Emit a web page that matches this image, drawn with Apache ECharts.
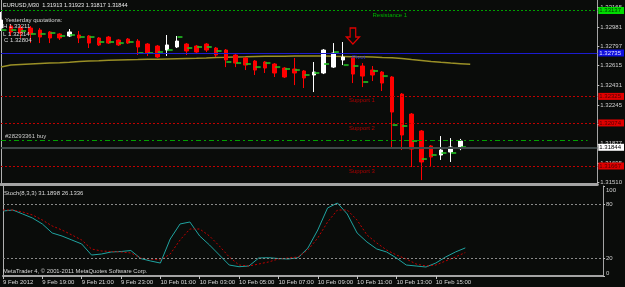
<!DOCTYPE html>
<html><head><meta charset="utf-8">
<script src="https://cdn.jsdelivr.net/npm/echarts@6/dist/echarts.min.js"></script>
<style>html,body{margin:0;padding:0;background:#0a0c0a}#c{width:625px;height:287px}</style>
</head><body><div id="c"></div><script>
// ---------- data ----------
const times = [
 '9 Feb 17:00','9 Feb 17:30','9 Feb 18:00','9 Feb 18:30','9 Feb 19:00','9 Feb 19:30','9 Feb 20:00','9 Feb 20:30',
 '9 Feb 21:00','9 Feb 21:30','9 Feb 22:00','9 Feb 22:30','9 Feb 23:00','9 Feb 23:30',
 '10 Feb 00:00','10 Feb 00:30','10 Feb 01:00','10 Feb 01:30','10 Feb 02:00','10 Feb 02:30','10 Feb 03:00','10 Feb 03:30',
 '10 Feb 04:00','10 Feb 04:30','10 Feb 05:00','10 Feb 05:30','10 Feb 06:00','10 Feb 06:30','10 Feb 07:00','10 Feb 07:30',
 '10 Feb 08:00','10 Feb 08:30','10 Feb 09:00','10 Feb 09:30','10 Feb 10:00','10 Feb 10:30','10 Feb 11:00','10 Feb 11:30',
 '10 Feb 12:00','10 Feb 12:30','10 Feb 13:00','10 Feb 13:30','10 Feb 14:00','10 Feb 14:30','10 Feb 15:00','10 Feb 15:30',
 '10 Feb 16:00','10 Feb 16:30',
 '10 Feb 17:00','10 Feb 17:30','10 Feb 18:00','10 Feb 18:30','10 Feb 19:00','10 Feb 19:30','10 Feb 20:00','10 Feb 20:30',
 '10 Feb 21:00','10 Feb 21:30','10 Feb 22:00','10 Feb 22:30','10 Feb 23:00','10 Feb 23:30'
];
const timeLabels = ['9 Feb 2012','9 Feb 19:00','9 Feb 21:00','9 Feb 23:00','10 Feb 01:00','10 Feb 03:00',
 '10 Feb 05:00','10 Feb 07:00','10 Feb 09:00','10 Feb 11:00','10 Feb 13:00','10 Feb 15:00'];

const opens  = [1.32971,1.32990,1.32971,1.32971,1.32952,1.32934,1.32915,1.32896,1.32905,1.32896,1.32877,1.32886,1.32858,1.32867,
 1.32848,1.32820,1.32801,1.32763,1.32792,1.32820,1.32801,1.32820,1.32782,1.32763,1.32716,1.32688,1.32659,1.32650,1.32631,1.32593,
 1.32584,1.32565,1.32527,1.32546,1.32602,1.32669,1.32688,1.32612,1.32574,1.32555,1.32508,1.32347,1.32158,1.31998,1.31856,1.31771,1.31799,1.31832];
const closes = [1.33047,1.32934,1.32924,1.32915,1.32886,1.32877,1.32877,1.32934,1.32877,1.32829,1.32811,1.32829,1.32811,1.32829,
 1.32792,1.32735,1.32697,1.32811,1.32848,1.32754,1.32744,1.32763,1.32716,1.32669,1.32640,1.32621,1.32574,1.32593,1.32546,1.32508,
 1.32546,1.32499,1.32555,1.32763,1.32735,1.32697,1.32536,1.32517,1.32527,1.32451,1.32177,1.31960,1.31827,1.31705,1.31752,1.31818,1.31846,1.31903];
const lows   = [1.32943,1.32896,1.32877,1.32829,1.32829,1.32829,1.32858,1.32886,1.32829,1.32782,1.32801,1.32820,1.32801,1.32820,
 1.32716,1.32707,1.32688,1.32707,1.32782,1.32716,1.32725,1.32744,1.32697,1.32602,1.32602,1.32574,1.32527,1.32546,1.32508,1.32499,
 1.32432,1.32404,1.32366,1.32536,1.32593,1.32621,1.32451,1.32413,1.32470,1.32376,1.31837,1.31818,1.31657,1.31534,1.31667,1.31724,1.31705,1.31817];
const highs  = [1.33123,1.33009,1.33000,1.32990,1.32971,1.32943,1.32924,1.32962,1.32943,1.32905,1.32886,1.32896,1.32867,1.32877,
 1.32867,1.32829,1.32811,1.32905,1.32896,1.32829,1.32811,1.32829,1.32792,1.32773,1.32725,1.32697,1.32669,1.32659,1.32640,1.32602,
 1.32688,1.32574,1.32650,1.32773,1.32829,1.32839,1.32697,1.32640,1.32612,1.32565,1.32517,1.32357,1.32168,1.32007,1.31865,1.31950,1.31931,1.31923];

const maValues = [1.32602,1.32621,1.32626,1.32631,1.32636,1.32640,1.32643,1.32647,1.32655,1.32659,1.32662,1.32666,1.32669,1.32672,
 1.32673,1.32675,1.32675,1.32678,1.32681,1.32683,1.32685,1.32688,1.32692,1.32694,1.32697,1.32699,1.32702,1.32704,1.32704,1.32705,
 1.32707,1.32707,1.32707,1.32707,1.32704,1.32702,1.32700,1.32699,1.32697,1.32692,1.32690,1.32683,1.32673,1.32664,1.32655,1.32647,
 1.32640,1.32634,1.32628];

const greenMarks = [1.32952,1.32952,1.32943,1.32915,1.32915,1.32924,1.32896,1.32905,1.32886,1.32886,1.32839,1.32839,1.32829,1.32839,
 1.32735,1.32735,1.32744,1.32763,1.32886,1.32782,1.32792,1.32792,1.32754,1.32650,1.32640,1.32631,1.32602,1.32640,1.32602,1.32584,
 1.32574,1.32527,1.32546,1.32631,1.32744,1.32621,1.32612,1.32461,1.32565,1.32517,1.32054,1.32045,1.31903,1.31733,1.31771,1.31790,1.31790,1.31846];

const stochMain = [72.2,73.3,68.9,64.4,57.8,47.8,44.4,40.0,35.6,23.3,24.4,26.7,27.2,28.3,19.4,16.7,14.4,41.1,57.8,60.0,44.4,34.4,23.3,12.2,
 10.3,11.1,20.0,20.3,19.4,18.9,20.3,31.1,51.1,75.6,81.1,68.9,47.8,37.8,30.0,26.7,20.0,12.2,11.1,10.0,14.4,21.1,26.7,31.2];
const stochSignal = [73.3,73.3,71.1,67.8,62.2,55.6,51.1,45.6,40.0,30.0,27.8,27.2,26.7,25.6,20.0,18.9,17.8,24.4,40.0,52.2,52.2,44.4,33.3,21.1,
 12.2,11.1,13.3,15.6,18.9,20.0,21.1,28.9,42.2,60.0,73.3,73.3,62.2,45.6,36.7,28.9,23.3,18.9,13.3,11.1,12.2,16.7,21.1,26.1];

const priceTicks = [1.33165,1.32981,1.32797,1.32615,1.32431,1.32245,1.32063,1.31877,1.31695,1.31510];
const stochTicks = [0,20,80,100];
const stochLevels = [80,20];

const levelNames  = ['Resistance 1','Pivot','Support 1','Support 2','Support 3'];
const levelValues = [1.33137,1.32735,1.32325,1.32074,1.31667];
const orderPrice = 1.31911;
const bidPrice = 1.31844;
const arrowPoint = [36, 1.32896];

// ---------- chart ----------
const FONT = 'Liberation Sans';
const LAST = times.length - 1;
const chart = echarts.init(document.getElementById('c'));
const txt = (text, left, top, color, size) => ({text, left, top, padding:0,
  textStyle:{color, fontSize:size||6, fontWeight:'normal', fontFamily:FONT}});

const candles = opens.map((o,i)=>[o, closes[i], lows[i], highs[i]]);
const showTick = (idx) => idx % 4 === 0 && idx / 4 < timeLabels.length;

const levelStyles = [
  {line:{color:'#00a000', type:[2,2], width:1}, box:'#00dd00', boxText:'#003000', text:'#00b000', lx:38, off:[0,2]},
  {line:{color:'#1c1cd0', type:'solid', width:1}, box:'#1010e0', boxText:'#e0e0ff', text:'#2a2ad0', lx:36, off:[-1,1]},
  {line:{color:'#c00000', type:[2,2], width:1}, box:'#e00000', boxText:'#500000', text:'#b00000', lx:36, off:[-4,1]},
  {line:{color:'#c00000', type:[2,2], width:1}, box:'#e00000', boxText:'#500000', text:'#b00000', lx:36, off:[-4,2]},
  {line:{color:'#c00000', type:[2,2], width:1}, box:'#e00000', boxText:'#500000', text:'#b00000', lx:36, off:[-4,2]}
];
const boxLabel = (text, bg, fg) => ({show:true, position:'end', distance:1, formatter:text, backgroundColor:bg,
    color:fg, fontSize:6, fontFamily:FONT, padding:[1,3,0,1]});

const markLines = levelValues.map((v,i)=>[
  {coord:[0, v], lineStyle:levelStyles[i].line, label:boxLabel(v.toFixed(5), levelStyles[i].box, levelStyles[i].boxText)},
  {coord:[LAST, v]}
]);
markLines.push([
  {coord:[0, orderPrice], lineStyle:{color:'#00a000', type:[5,3,2,3], width:1},
   label:{show:true, position:'insideStartTop', distance:[4,1], formatter:'#28293361 buy', color:'#c8c8c8', fontSize:6, fontFamily:FONT}},
  {coord:[LAST - 1, orderPrice]}
]);
markLines.push([
  {coord:[0, bidPrice], lineStyle:{color:'#3e4848', type:'solid', width:2}, label:boxLabel(bidPrice.toFixed(5), '#ffffff', '#000000')},
  {coord:[LAST, bidPrice]}
]);

const markPoints = levelValues.map((v,i)=>({
  coord:[levelStyles[i].lx, v], symbol:'circle', symbolSize:0,
  label:{show:true, formatter:levelNames[i], position:levelStyles[i].off, color:levelStyles[i].text, fontSize:6, fontFamily:FONT}
}));
markPoints.push({coord:arrowPoint, symbol:'path://M4,0 L10,0 L10,9 L14,9 L7,16 L0,9 L4,9 Z', symbolSize:[13,16],
  itemStyle:{color:'rgba(0,0,0,0)', borderColor:'#e00000', borderWidth:1.3}, label:{show:false}});

const hiddenY = (grid, min, max) => ({gridIndex:grid, type:'value', position:'left', min, max,
  axisLine:{show:true, onZero:false, lineStyle:{color:'#b0b0b0', width:1}}, axisTick:{show:false}, axisLabel:{show:false}, splitLine:{show:false}});

const option = {
  backgroundColor:'#0a0c0a',
  animation:false,
  title:[
    txt('EURUSD,M30  1.31913 1.31923 1.31817 1.31844', 3, 2, '#e8e8e8', 5.6),
    txt('Yesterday quotations:', 5, 17, '#d8d8d8'),
    txt('H 1.33211', 3, 23, '#d8d8d8'),
    txt('L 1.32314', 3, 31, '#d8d8d8'),
    txt('C 1.32804', 4, 37, '#d8d8d8'),
    txt('Stoch(8,3,3) 31.1898 26.1336', 4, 190, '#d8d8d8'),
    txt('MetaTrader 4, \u00a9 2001-2011 MetaQuotes Software Corp.', 3, 268, '#d8d8d8', 5.8)
  ],
  grid:[{left:1, right:22, top:0, height:184}, {left:1, right:22, top:186, height:90}],
  xAxis:[
    {gridIndex:0, type:'category', data:times, boundaryGap:false,
     axisLine:{onZero:false, lineStyle:{color:'#a4a4a4', width:3}}, axisTick:{show:false}, axisLabel:{show:false}, splitLine:{show:false}},
    {gridIndex:1, type:'category', data:times, boundaryGap:false,
     axisLine:{onZero:false, lineStyle:{color:'#a4a4a4', width:2}},
     axisTick:{show:true, interval:showTick, length:3, lineStyle:{color:'#c0c0c0'}},
     axisLabel:{interval:showTick, formatter:(v,idx)=>timeLabels[idx/4]||'', align:'left', margin:3, fontSize:6, color:'#d8d8d8', fontFamily:FONT},
     splitLine:{show:false}}
  ],
  yAxis:[
    {gridIndex:0, type:'value', position:'right', min:1.31497, max:1.33236, splitLine:{show:false},
     axisLine:{show:true, onZero:false, lineStyle:{color:'#a4a4a4'}},
     axisTick:{show:true, length:2, customValues:priceTicks, lineStyle:{color:'#c0c0c0'}},
     axisLabel:{customValues:priceTicks, formatter:v=>v.toFixed(5), fontSize:6, color:'#d0d0d0', margin:3, fontFamily:FONT}},
    hiddenY(0, 1.31497, 1.33236),
    {gridIndex:1, type:'value', position:'right', min:0, max:100, splitLine:{show:false},
     axisLine:{show:true, onZero:false, lineStyle:{color:'#a4a4a4'}},
     axisTick:{show:true, length:2, customValues:stochTicks, lineStyle:{color:'#c0c0c0'}},
     axisLabel:{customValues:stochTicks, fontSize:6, color:'#d0d0d0', margin:3, fontFamily:FONT,
       formatter:v=> v===100 ? '{lo|100}' : (v===0 ? '{hi|0}' : String(v)),
       rich:{lo:{padding:[8,0,0,0], fontSize:6, color:'#d0d0d0'}, hi:{padding:[0,0,6,0], fontSize:6, color:'#d0d0d0'}}}},
    hiddenY(1, 0, 100)
  ],
  series:[
    {type:'line', xAxisIndex:0, yAxisIndex:0, data:maValues, showSymbol:false, z:2,
     lineStyle:{color:'#9a9026', width:1.5},
     markLine:{silent:true, symbol:['none','none'], data:markLines},
     markPoint:{silent:true, data:markPoints}},
    {type:'candlestick', xAxisIndex:0, yAxisIndex:0, data:candles, barWidth:4, z:3,
     itemStyle:{color:'#ffffff', color0:'#ff0000', borderColor:'#ffffff', borderColor0:'#ff0000', borderWidth:1}},
    {type:'scatter', xAxisIndex:0, yAxisIndex:0, data:greenMarks, symbol:'rect', symbolSize:[5,2], symbolOffset:[3,0], z:4,
     itemStyle:{color:'#22c422'}},
    {type:'line', xAxisIndex:1, yAxisIndex:2, data:stochMain, showSymbol:false,
     lineStyle:{color:'#1fa3a0', width:1},
     markLine:{silent:true, symbol:['none','none'], label:{show:false},
       lineStyle:{color:'#8a8a8a', type:[2,2], width:1}, data:stochLevels.map(v=>({yAxis:v}))}},
    {type:'line', xAxisIndex:1, yAxisIndex:2, data:stochSignal, showSymbol:false,
     lineStyle:{color:'#c00000', width:1, type:[2,2]}}
  ]
};
chart.setOption(option);
</script></body></html>
